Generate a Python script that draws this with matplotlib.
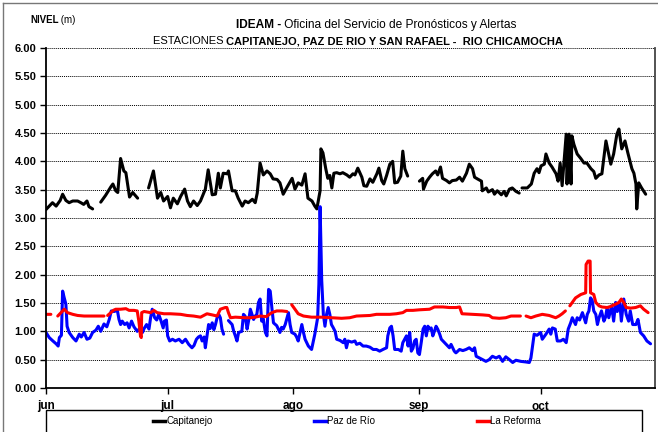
import numpy as np
import matplotlib
matplotlib.use("Agg")
import matplotlib.pyplot as plt
from matplotlib.lines import Line2D
from matplotlib.patches import Rectangle

plt.rcParams['font.family'] = ['Liberation Sans Narrow', 'Liberation Sans', 'DejaVu Sans']

nan = np.nan

# days since 1 June ; nan = gap in the record
cap_day = [0.0, 0.8, 1.6, 2.5, 3.5, 4.1, 4.9, 5.7, 6.6, 7.8, 8.6, 9.3, 10.1, 10.6, 11.5, nan,
           13.5, 14.7, 16.0, 16.5, 17.2, 17.7, 18.4, 19.2, 19.7, 20.6, 21.4, 22.6, nan,
           25.3, 26.5, 27.5, 28.3, 29.0, 30.0, 30.7, 31.4, 32.4, 33.2, 34.2, 34.9, 35.6, 36.4,
           37.3, 38.1, 39.3, 40.0, 41.0, 41.8, 42.5, 43.0, 43.7, 44.7, 45.0, 45.9, 46.7, 47.4,
           48.4, 49.1, 49.9, 50.9, 51.6, 52.1, 52.8, 53.6, 54.5, 55.3, 56.0, 57.0, 57.7, 58.5,
           59.5, 60.7, 61.4, 62.2, 63.1, 63.9, 64.6, 65.6, 66.3, 66.8, 67.6, 67.8, 68.3, 69.0,
           69.5, 70.0, 70.5, 71.0, 71.7, 72.5, 73.2, 74.2, 74.9, 75.7, 76.2, 76.9, 77.9, 78.4,
           79.1, 79.9, 80.6, 81.6, 82.1, 82.8, 83.3, 84.0, 84.8, 85.5, 86.0, 86.7, 87.5, 88.0,
           88.5, 89.2, nan,
           92.1, 92.9, 93.1, 93.9, 94.6, 95.3, 96.1, 96.6, 97.3, 97.8, 98.8, 99.5, 100.2, 101.2,
           102.0, 102.7, 103.7, 104.4, 105.2, 105.7, 106.4, 107.4, 107.6, 108.6, 109.1, 110.1,
           110.6, 111.3, 112.3, 113.0, 113.5, 114.3, 115.0, 115.9, 116.7, nan,
           117.4, 118.7, 119.7, 120.4, 121.1, 121.6, 122.1, 122.9, 123.3, 124.1, 124.8, 125.8,
           126.3, 126.8, 127.3, 128.3, 128.5, 129.0, 129.5, 129.7, 130.2, 131.0, 131.9, 132.7,
           133.4, 134.4, 135.1, 135.6, 136.4, 137.1, 138.1, 139.3, 140.0, 140.8, 141.3, 142.0,
           142.8, 143.5, 144.5, 145.0, 145.5, 145.7, 146.2, 146.9, 147.9]
cap_lvl = [3.15, 3.21, 3.27, 3.21, 3.31, 3.42, 3.31, 3.27, 3.30, 3.30, 3.27, 3.24, 3.30, 3.20, 3.16, nan,
           3.28, 3.40, 3.55, 3.60, 3.48, 3.45, 4.05, 3.83, 3.80, 3.37, 3.45, 3.35, nan,
           3.53, 3.83, 3.35, 3.45, 3.30, 3.38, 3.18, 3.35, 3.25, 3.38, 3.51, 3.30, 3.20, 3.30,
           3.22, 3.30, 3.51, 3.85, 3.41, 3.42, 3.79, 3.53, 3.79, 3.78, 3.83, 3.48, 3.48, 3.35,
           3.21, 3.30, 3.27, 3.33, 3.27, 3.44, 3.97, 3.76, 3.83, 3.78, 3.69, 3.68, 3.62, 3.42,
           3.55, 3.70, 3.51, 3.62, 3.58, 3.78, 3.35, 3.30, 3.21, 3.16, 3.48, 4.22, 4.15, 3.87,
           3.70, 3.75, 3.53, 3.79, 3.80, 3.78, 3.80, 3.76, 3.72, 3.78, 3.76, 3.88, 3.72, 3.57,
           3.56, 3.69, 3.63, 3.78, 3.88, 3.66, 3.60, 3.75, 3.95, 4.00, 3.62, 3.63, 3.74, 4.18,
           3.87, 3.74, nan,
           3.65, 3.70, 3.51, 3.65, 3.72, 3.78, 3.83, 3.76, 3.90, 3.70, 3.66, 3.62, 3.66, 3.67,
           3.72, 3.65, 3.79, 3.95, 3.87, 3.72, 3.69, 3.65, 3.48, 3.53, 3.46, 3.50,
           3.42, 3.48, 3.41, 3.47, 3.39, 3.51, 3.53, 3.47, 3.44, nan,
           3.53, 3.53, 3.60, 3.79, 3.87, 3.80, 3.92, 3.95, 4.13, 3.97, 3.90, 3.78,
           3.65, 3.97, 3.57, 4.48, 3.60, 4.48, 3.60, 4.45, 4.30, 4.13, 4.05, 3.97,
           3.97, 3.87, 3.82, 3.70, 3.76, 3.78, 4.36, 3.95, 4.13, 4.48, 4.57, 4.22,
           4.36, 4.15, 3.87, 3.79, 3.60, 3.16, 3.62, 3.53, 3.42]

paz_day = [0.0, 0.8, 1.7, 2.5, 3.0, 3.3, 3.8, 4.1, 4.5, 4.9, 5.2, 5.7, 6.6, 7.4, 8.2, 8.7, 9.4,
           10.1, 10.8, 11.5, 12.3, 12.9, 13.5, 14.3, 15.0, 15.6, 16.1, 16.8, 17.6, 18.0, 18.4,
           18.8, 19.4, 20.0, 20.5, 21.1, 21.7, 22.5, 23.2, 23.8, 24.2, 24.8, 25.4, 25.8, 26.2,
           26.8, 27.3, 27.8, 28.3, 28.9, 29.2, 29.7, 30.0, 30.5, 31.2, 31.9, 32.8, 33.6, 34.4,
           35.2, 36.0, 36.5, 37.1, 37.6, 38.1, 38.5, 39.0, 39.3, 39.7, 40.1, 40.5, 41.0, 41.4,
           41.8, 42.2, 42.6, 43.0, 43.4, 43.8, nan,
           45.0, 45.9, 46.3, 46.7, 47.1, 47.5, 48.3, 48.7, 49.1, 49.6, 50.0, 50.4, 50.8, 51.2,
           51.6, 52.0, 52.4, 52.8, 53.2, 53.6, 54.1, 54.5, 54.9, 55.3, 55.7, 56.1, 56.9, 57.7,
           58.1, 58.5, 59.0, 59.8, 60.2, 60.6, 61.4, 61.8, 62.2, 63.1, 63.5, 63.9, 64.7, 65.5,
           66.3, 67.0, 67.3, 67.6, 68.0, 68.4, 68.8, 69.2, 69.6, 70.0, 70.4, 70.8, 71.3, 71.7,
           72.5, 73.3, 73.7, 74.1, 74.5, 75.4, 76.2, 76.6, 77.4, 78.2, 79.0, 79.9, 80.7, 81.5,
           82.3, 83.1, 84.0, 84.3, 84.8, 85.2, 85.6, 86.0, 86.9, 87.6, 88.0, 88.9, 89.3, 89.7,
           90.1, 90.5, 90.9, 91.3, 91.7, 92.1, 92.6, 93.0, 93.4, 93.8, 94.2, 94.6, 95.0, 95.4,
           95.8, 96.2, 96.6, 97.1, 97.5, 97.9, 98.7, 99.5, 99.9, 100.7, 101.1, 102.0, 102.8,
           103.6, 104.4, 105.2, 105.7, 106.1, 106.9, 107.7, 108.5, 109.3, 110.1, 111.0, 111.8,
           112.6, 113.4, 114.3, 115.1, 115.9, 117.1, 118.3, 119.2, 119.6, 120.4, 121.1, 122.0,
           122.4, 123.3, 124.1, 124.5, 124.9, 125.6, 126.1, 126.9, 127.6, 128.3, 128.8, 129.4,
           129.8, 130.6, 131.0, 131.6, 132.3, 133.1, 133.5, 133.9, 134.3, 134.7, 135.1, 135.6,
           136.0, 136.4, 137.0, 137.6, 138.0, 138.4, 138.8, 139.5, 140.0, 140.5, 140.9, 141.5,
           141.9, 142.5, 143.1, 143.7, 144.1, 144.7, 145.5, 146.0, 146.6, 147.4, 148.2, 149.1]
paz_lvl = [0.98, 0.89, 0.83, 0.78, 0.74, 0.89, 0.93, 1.71, 1.59, 1.48, 1.09, 0.98, 0.89, 0.83,
           0.95, 0.90, 0.98, 0.86, 0.88, 0.98, 1.02, 1.09, 1.00, 1.13, 1.08, 1.21, 1.36, 1.35,
           1.37, 1.21, 1.12, 1.18, 1.12, 1.15, 1.06, 1.18, 1.08, 1.00, 1.06, 0.98, 1.05, 1.12,
           1.04, 1.24, 1.39, 1.24, 1.20, 1.30, 1.20, 1.06, 1.18, 1.20, 0.92, 0.83, 0.86, 0.83,
           0.86, 0.80, 0.86, 0.77, 0.71, 0.75, 0.86, 0.90, 0.92, 0.83, 0.90, 0.71, 0.92, 1.12,
           1.05, 1.15, 1.03, 1.12, 1.24, 1.30, 1.24, 1.04, 0.95, nan,
           1.19, 1.12, 1.00, 0.92, 0.83, 0.98, 1.00, 1.30, 1.27, 1.04, 1.20, 1.39, 1.30, 1.21,
           1.27, 1.30, 1.51, 1.57, 1.18, 1.22, 0.98, 0.92, 1.74, 1.71, 1.42, 1.15, 1.10, 0.98,
           1.07, 1.04, 1.12, 1.33, 1.12, 0.98, 0.95, 0.90, 0.83, 1.12, 0.98, 0.86, 0.74, 0.68,
           0.95, 1.24, 1.83, 3.20, 1.90, 1.30, 1.09, 1.30, 1.42, 1.30, 1.12, 1.07, 1.00, 0.86,
           0.84, 0.80, 0.86, 0.71, 0.83, 0.81, 0.83, 0.77, 0.79, 0.74, 0.74, 0.72, 0.68, 0.68,
           0.65, 0.68, 0.71, 0.92, 1.06, 1.09, 0.92, 0.68, 0.68, 0.65, 0.80, 0.92, 0.74, 0.98,
           0.65, 0.70, 0.83, 0.86, 0.62, 0.59, 0.83, 1.04, 1.09, 0.92, 1.09, 1.04, 1.06, 0.92,
           1.00, 1.09, 1.04, 0.95, 0.86, 0.83, 0.77, 0.71, 0.77, 0.65, 0.62, 0.68, 0.66,
           0.68, 0.71, 0.66, 0.71, 0.56, 0.53, 0.50, 0.47, 0.50, 0.56, 0.53, 0.56,
           0.47, 0.55, 0.50, 0.45, 0.49, 0.47, 0.46, 0.45, 0.53, 0.95, 0.93, 0.98,
           0.86, 0.95, 1.04, 0.95, 1.06, 1.04, 0.83, 0.83, 0.86, 0.80, 1.04, 1.15,
           1.24, 1.12, 1.24, 1.20, 1.33, 1.15, 1.30, 1.36, 1.59, 1.55, 1.36, 1.30,
           1.12, 1.24, 1.36, 1.18, 1.25, 1.42, 1.24, 1.45, 1.18, 1.51, 1.35, 1.51,
           1.18, 1.57, 1.30, 1.18, 1.36, 1.12, 1.12, 1.21, 0.98, 0.92, 0.83, 0.78]

ref_day = [0.0, 1.2, nan,
           2.9, 3.7, 4.5, 5.3, 6.6, 7.8, 9.4, 11.1, 12.7, 14.3, nan,
           15.2, 16.0, 16.6, 17.2, 18.4, 19.7, 20.5, 21.7, 22.5, 22.9, 23.3, 23.5, 23.6, 24.2,
           25.0, 25.8, 26.6, 27.4, 29.1, 30.7, 33.2, 34.8, 36.4, 38.1, 39.7, 41.0, 42.2, 43.0,
           44.2, 44.6, 45.0, 45.5, 46.7, 49.1, 50.4, 51.6, 52.8, 54.3, 55.7, 56.9, 58.2, 59.4, nan,
           60.6, 61.4, 62.2, 63.5, 65.5, 68.0, 70.4, 72.9, 74.9, 76.6, 79.9, 81.5, 84.8, 86.4,
           88.0, 88.9, 90.5, 92.1, 94.6, 95.8, 97.9, 99.5, 101.2, 102.0, 102.6, 105.2, 107.7,
           109.3, 110.1, 111.8, 113.4, 114.7, 115.9, 117.0, nan,
           118.4, 119.6, 120.8, 122.4, 124.1, 125.7, 126.5, 127.3, 128.1, nan,
           129.2, 129.8, 130.6, 131.9, 133.1, 133.2, 133.7, 134.2, 134.3, 135.1, 135.6, 136.4,
           137.1, 138.4, 139.3, 140.5, 141.3, 141.9, 142.5, 143.1, 144.2, 145.4, 146.6, 147.4, 148.5]
ref_lvl = [1.30, 1.30, nan,
           1.27, 1.33, 1.39, 1.33, 1.30, 1.28, 1.27, 1.27, 1.27, 1.27, nan,
           1.28, 1.33, 1.37, 1.39, 1.39, 1.40, 1.37, 1.37, 1.36, 1.18, 0.92, 0.89, 1.33, 1.35,
           1.34, 1.33, 1.37, 1.33, 1.31, 1.31, 1.30, 1.28, 1.27, 1.25, 1.31, 1.29, 1.27, 1.39,
           1.42, 1.42, 1.33, 1.24, 1.25, 1.24, 1.24, 1.25, 1.27, 1.26, 1.33, 1.36, 1.36, 1.35, nan,
           1.47, 1.39, 1.31, 1.27, 1.25, 1.25, 1.24, 1.23, 1.24, 1.27, 1.28, 1.30, 1.30, 1.31,
           1.33, 1.37, 1.37, 1.38, 1.39, 1.43, 1.43, 1.42, 1.42, 1.43, 1.31, 1.30, 1.29,
           1.28, 1.24, 1.23, 1.24, 1.27, 1.27, 1.27, nan,
           1.27, 1.24, 1.27, 1.30, 1.28, 1.24, 1.27, 1.31, 1.36, nan,
           1.45, 1.51, 1.59, 1.65, 1.68, 2.18, 2.24, 2.24, 1.68, 1.65, 1.51, 1.45,
           1.43, 1.42, 1.44, 1.48, 1.51, 1.57, 1.51, 1.42, 1.41, 1.42, 1.45, 1.39, 1.33]

month_days = [0, 30, 61, 92, 122]
month_labels = ["jun", "jul", "ago", "sep", "oct"]
series_names = ["Capitanejo", "Paz de Río", "La Reforma"]
series_colors = ["black", "#0000ff", "#ff0000"]

W, H = 658, 432
fig = plt.figure(figsize=(W / 100, H / 100), dpi=100)
ax = fig.add_axes([46 / W, 1 - 388 / H, (655 - 46) / W, 340 / H])

for d, v, c in zip([cap_day, paz_day, ref_day], [cap_lvl, paz_lvl, ref_lvl], series_colors):
    ax.plot(d, v, color=c, lw=2.2, solid_joinstyle="round", solid_capstyle="round")

ax.set_xlim(0, 150.2)
ax.set_ylim(0, 6)
ax.set_yticks(np.arange(0, 6.01, 0.5))
ax.set_yticklabels([f"{t:.2f}" for t in np.arange(0, 6.01, 0.5)], fontweight="bold", fontsize=8)
ax.set_xticks(month_days)
ax.set_xticklabels(month_labels, fontweight="bold", fontsize=8.5)
ax.tick_params(axis="y", length=4, width=1, pad=3)
ax.tick_params(axis="x", length=4, width=1, pad=5)
ax.yaxis.grid(True, color="black", linestyle=(0, (1, 1)), lw=0.7)
ax.set_axisbelow(True)
for s in ["left", "bottom"]:
    ax.spines[s].set_linewidth(1.3)
ax.spines["right"].set_color("#444444")
ax.spines["right"].set_linewidth(1.3)
ax.spines["top"].set_visible(False)

# titles with mixed weights
renderer = fig.canvas.get_renderer()


def mixed_line(parts, x, y, fs, center=True):
    texts = [fig.text(0, y / H, s, fontweight=w, fontsize=fs, va="baseline", ha="left")
             for s, w in parts]
    widths = [t.get_window_extent(renderer).width for t in texts]
    x0 = x - sum(widths) / 2 if center else x
    for t, w in zip(texts, widths):
        t.set_x(x0 / W)
        x0 += w


mixed_line([("IDEAM -", "bold"), (" Oficina del Servicio de Pronósticos y Alertas", "normal")],
           376, H - 28, 8.6)
mixed_line([("ESTACIONES ", "normal"),
            ("CAPITANEJO, PAZ DE RIO Y SAN RAFAEL -  RIO CHICAMOCHA", "bold")],
           358, H - 44, 8)
mixed_line([("NIVEL", "bold"), (" (m)", "normal")], 30, H - 23, 7, center=False)

# legend
handles = [Line2D([], [], color=c, lw=2.5) for c in series_colors]
fig.legend(handles, series_names, loc="center", bbox_to_anchor=(347 / W, 1 - 421 / H),
           ncol=3, frameon=False, fontsize=7, handlelength=1.2, handletextpad=0.1,
           columnspacing=10.5)
fig.patches.append(Rectangle((46 / W, -0.05), (642 - 46) / W, (432 - 410) / H + 0.05,
                             transform=fig.transFigure, fill=False, ec="black", lw=1))

# outer frame
fig.add_artist(Line2D([3 / W, 3 / W], [0, 1 - 3 / H], transform=fig.transFigure,
                      color="#777777", lw=1))
fig.add_artist(Line2D([3 / W, 1], [1 - 3 / H, 1 - 3 / H], transform=fig.transFigure,
                      color="#777777", lw=1))

fig.savefig("out.png", dpi=100)
